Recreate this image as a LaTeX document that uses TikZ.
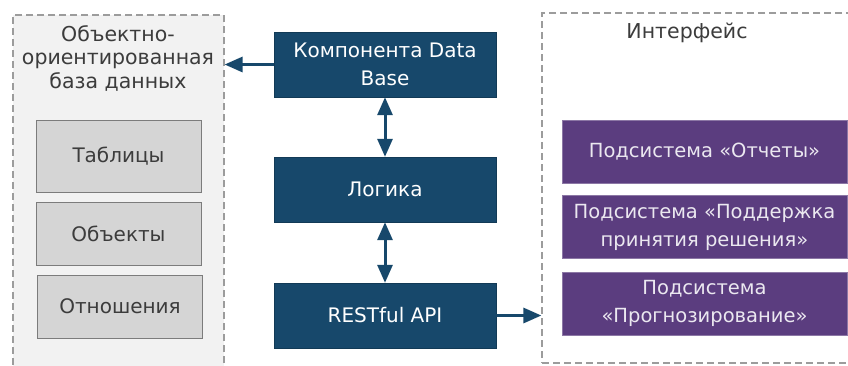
\documentclass[tikz,border=0pt]{standalone}
\usepackage{fontspec}
\setmainfont{DejaVu Sans}
\usetikzlibrary{arrows.meta}
\definecolor{coreblue}{HTML}{17486B}
\definecolor{uipurple}{HTML}{5B3D7F}
\definecolor{cellgray}{HTML}{D5D5D5}
\definecolor{cellline}{HTML}{7C7C7C}
\definecolor{textgray}{HTML}{3C3C3C}
\definecolor{dashgray}{HTML}{9C9C9C}
\tikzset{
  container/.style={rectangle, draw=dashgray, line width=1.2pt,
                    dash pattern=on 7pt off 4pt, inner sep=0pt},
  corebox/.style={rectangle, fill=coreblue, draw=coreblue!80!black,
                  text=white, minimum width=222pt, minimum height=65pt,
                  align=center, font=\fontsize{20}{28}\selectfont},
  cellbox/.style={rectangle, fill=cellgray, draw=cellline, line width=1pt,
                  text=textgray, minimum width=165pt, minimum height=63pt,
                  font=\fontsize{20}{28}\selectfont},
  subbox/.style={rectangle, fill=uipurple, draw=uipurple!70!white,
                 text=white!88!uipurple, minimum width=285pt,
                 minimum height=63pt, align=center, inner sep=1pt,
                 font=\fontsize{19.5}{28}\selectfont},
  boxtitle/.style={text=textgray, align=center,
                   font=\fontsize{20.5}{23.5}\selectfont},
  link/.style={draw=coreblue, line width=3pt,
               -{Triangle[length=18pt, width=15pt]}},
  duallink/.style={link, {Triangle[length=18pt, width=15pt]}-{Triangle[length=18pt, width=15pt]}}
}

\begin{document}
\begin{tikzpicture}[x=1pt, y=-1pt]
  \useasboundingbox (0, 0) rectangle (848, 365);
  % the two dashed groups
  \node[container, fill=black!5, minimum width=211pt, minimum height=357pt]
    (dbgroup) at (118.5, 193.5) {};
  \node[container, fill=white, minimum width=338pt, minimum height=350pt]
    (uigroup) at (711, 188) {};
  \node[boxtitle] (dbtitle) at (118, 58) {Объектно-\\ориентированная\\база данных};
  \node[boxtitle] (uititle) at (687, 33) {Интерфейс};
  % name/x/y/height/text
  \foreach \n/\x/\y/\h/\t in {%
      tables/118.5/156/72/Таблицы, objects/118.5/233.5/63/Объекты,
      relations/120/306.5/63/Отношения}
    { \node[cellbox, minimum height=\h pt] (\n) at (\x, \y) {\t}; }
  \foreach \n/\y/\t in {%
      dbcomp/64.5/{Компонента Data\\Base}, logic/189.5/Логика,
      rest/315.5/RESTful API}
    { \node[corebox] (\n) at (385, \y) {\t}; }
  \foreach \n/\y/\t in {%
      reports/151.5/{Подсистема «Отчеты»},
      decision/227/{Подсистема «Поддержка\\принятия решения»},
      forecast/303.5/{Подсистема\\«Прогнозирование»}}
    { \node[subbox] (\n) at (704.5, \y) {\t}; }
  \draw[duallink] (dbcomp) -- (logic);
  \draw[duallink] (logic) -- (rest);
  \draw[link] (dbcomp.west) -- (dbcomp.west -| dbgroup.east);
  \draw[link] (rest.east) -- (rest.east -| uigroup.west);
\end{tikzpicture}
\end{document}
